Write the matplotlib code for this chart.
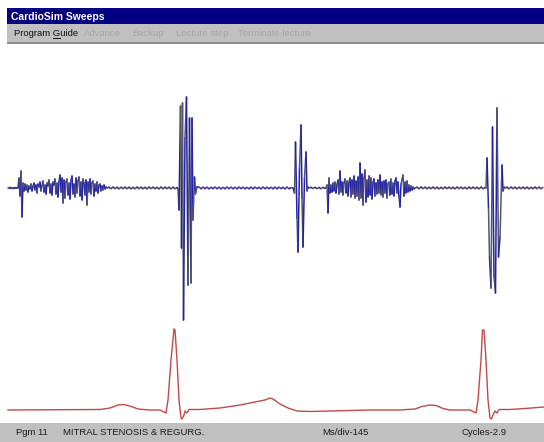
import numpy as np
import matplotlib
matplotlib.use('Agg')
import matplotlib.pyplot as plt
from matplotlib.collections import LineCollection
from matplotlib.patches import Rectangle

# ---------------- data ----------------
title = 'CardioSim Sweeps'
menu_items = ['Program Guide', 'Advance', 'Backup', 'Lecture step', 'Terminate lecture']
menu_enabled = [True, False, False, False, False]
status_items = ['Pgm 11', 'MITRAL STENOSIS & REGURG.', 'Ms/div-145', 'Cycles-2.9']

# Phonocardiogram: uniform-step pieces (start, step, values) and explicit bursts (t, a)
pcg_murmur1_start, pcg_murmur1_step = 8, 1
pcg_murmur1 = [0, 0.5, -0.5, 0.6, -0.4, 0.3, -0.5, 0.5, -0.3, 0.4, 0,
               10, -8, 17, -29, 5, -3,
               4, -2, 3, -4, 2, -1, 4, -3, 2, 5, -2, 3, -5, 4, 1, 6, -3, 2, 7, -4, 3, -6, 5, 2, 8,
               -5, 4, -7, 6, 3, 9, -6, 5, -9, 7, 13, -4, 10, -15, 8, -10, 6, 9, -7, 5, -11, 8, 12,
               -6, 4, -9, 10, -5, 7, 11, -8, 6, -12, 9, 5, -7, 8, -17, 6, -4, 9, -6, 5, 7, -8, 4,
               -3, 6, -5, 3, 4, -3, 2, -2, 3, -1, 1, 0]
pcg_ripple1_start, pcg_ripple1_step = 109, 2
pcg_ripple1 = [0.8, -0.7, 0.9, -0.6, 0.8, -0.8, 0.7, -0.6, 0.9, -0.7, 0.8, -0.8, 0.6, -0.7,
               0.9, -0.6, 0.8, -0.7, 0.7, -0.8, 0.9, -0.6, 0.8, -0.7, 0.6, -0.8, 0.9, -0.7,
               0.8, -0.6, 0.7, -0.8, 0.9, -0.7, 0.5]
pcg_s1a_t = [178, 179, 180.5, 181.5, 182.5, 183.5, 185, 186.5, 188, 189.5, 191, 192, 193, 194.5, 195.5, 197]
pcg_s1a_a = [-1, -22, 82, -60, 85, -132, 50, 91, -97, 70, -95, 70, -32, 11, -6, 1]
pcg_ripple2_start, pcg_ripple2_step = 199, 2
pcg_ripple2 = [0.8, -0.7, 0.9, -0.6, 0.8, -0.8, 0.7, -0.6, 0.9, -0.7, 0.8, -0.8, 0.6, -0.7,
               0.9, -0.6, 0.8, -0.7, 0.7, -0.8, 0.9, -0.6, 0.8, -0.7, 0.6, -0.8, 0.9, -0.7,
               0.8, -0.6, 0.7, -0.8, 0.9, -0.7, 0.8, -0.6, 0.7, -0.8, 0.9, -0.7, 0.8, -0.6,
               0.7, -0.8, 0.9, -0.7, 0.3]
pcg_s2_t = [293, 294.5, 295.5, 297, 298, 299.5, 301, 302, 303, 304.5, 306, 307, 308, 309]
pcg_s2_a = [0, -5, 46, -30, -64, 20, 63, -10, -59, 10, 36, -3, 1, 0]
pcg_ripple3_start, pcg_ripple3_step = 311, 2
pcg_ripple3 = [0.6, -0.5, 0.7, -0.6, 0.5, -0.6, 0.6, -0.4]
pcg_murmur2_start, pcg_murmur2_step = 326, 1
pcg_murmur2 = [0, 3, -25, 10, -5, 3, -4, 5, -3, 6, -5, 4, 8, -6, 17, -4, 6, -7, 5, 9, -5, 7, -8, 6,
               10, -9, 8, -6, 12, -10, 7, -8, 11, -12, 25, -10, 14, -17, 9, 18, -14, 8, -9, 12, -7,
               10, -11, 6, 9, -8, 5, -6, 8, -5, 13, -7, 6, -9, 7, -5, 8, -10, 4, 6, -7, 9, -6, 5,
               -8, 7, 10, -5, 6, -9, -19, 4, 8, 13, -8, 6, -5, 7, -4, 3, -3, 2, -2, 1, -1, 0]
pcg_ripple4_start, pcg_ripple4_step = 417, 2
pcg_ripple4 = [0.8, -0.7, 0.9, -0.6, 0.8, -0.8, 0.7, -0.6, 0.9, -0.7, 0.8, -0.8, 0.6, -0.7,
               0.9, -0.6, 0.8, -0.7, 0.7, -0.8, 0.9, -0.6, 0.8, -0.7, 0.6, -0.8, 0.9, -0.7,
               0.8, -0.6, 0.7, -0.8, 0.9, -0.7, 0.4]
pcg_s1b_t = [486, 487, 488.5, 489.5, 491, 492.5, 494, 495.5, 497, 498.5, 500, 502, 503, 504, 505]
pcg_s1b_a = [0, 30, -20, -69, -100, 61, -89, -105, 80, -69, -49, 23, -3, 1, 0]
pcg_ripple5_start, pcg_ripple5_step = 507, 2
pcg_ripple5 = [0.8, -0.7, 0.9, -0.6, 0.8, -0.8, 0.7, -0.6, 0.9, -0.7, 0.8, -0.8, 0.6, -0.7,
               0.9, -0.6, 0.8, -0.7, 0.6]

# ECG (time, amplitude)
ecg_t = [8, 60, 100, 110, 118, 123, 130, 138, 150, 160, 164, 166, 168, 171, 174, 175, 177, 179,
         181, 182, 184, 185, 187, 189, 200, 220, 240, 255, 265, 270, 273, 280, 288, 297, 310,
         330, 350, 370, 400, 415, 422, 430, 436, 443, 450, 470, 474, 476, 478, 481, 482.5, 484,
         486, 488, 490, 491.5, 493, 495, 497, 499, 510, 525, 544]
ecg_a = [0, 0.3, 0.5, 2, 5, 5.5, 4, 1, 0, 0, -2, -3, 10, 50, 81, 80, 50, 10,
         -8, -9, -5, -1, -3, 0.5, 0.5, 2, 5, 8, 10, 12, 11, 6, 2, -1, -1.5,
         -1, -0.5, 0, 0, 1, 3.5, 5, 4.5, 1.5, 0, 0, -2, -3, 10, 50, 80, 80,
         50, 10, -8, -9, -5, -1, -3, 0.5, 0.5, 1.5, 3]

# ---------------- figure ----------------
W, H = 544, 442
fig = plt.figure(figsize=(W / 100, H / 100), dpi=100)
fig.patch.set_facecolor('white')

bg = fig.add_axes([0, 0, 1, 1])
bg.set_xlim(0, W)
bg.set_ylim(H, 0)
bg.axis('off')
bg.add_patch(Rectangle((7, 8), W - 7, 16, color='#000080', lw=0))
bg.add_patch(Rectangle((7, 24), W - 7, 18, color='#c0c0c0', lw=0))
bg.add_patch(Rectangle((7, 42), W - 7, 2, color='#8c8c8c', lw=0))
bg.add_patch(Rectangle((0, 423), W, 19, color='#c0c0c0', lw=0))

FONT = 'Liberation Sans'
bg.text(11, 16.5, title, color='white', fontweight='bold', fontsize=7.5, family=FONT,
        va='center', ha='left')

menu_x = [14, 84, 132, 176, 238]
for lab, x, en in zip(menu_items, menu_x, menu_enabled):
    bg.text(x, 33.5, lab, color='#101010' if en else '#a6a6a6', fontsize=6.8, family=FONT,
            va='center', ha='left')

# underline the G of "Program Guide"
fig.canvas.draw()
r = fig.canvas.get_renderer()
tmp = bg.text(14, 33.5, 'Program ', fontsize=6.8, family=FONT, va='center')
w1 = tmp.get_window_extent(r).width
tmp.set_text('G')
w2 = tmp.get_window_extent(r).width
tmp.remove()
bg.plot([14 + w1, 14 + w1 + w2], [38.3, 38.3], color='#101010', lw=0.7)

status_x = [16, 63, 322, 462]
for lab, x in zip(status_items, status_x):
    bg.text(x, 432.5, lab, color='#1a1a1a', fontsize=6.8, family=FONT, va='center', ha='left')

# ---------------- PCG ----------------
def uni(start, step, vals):
    return list(start + step * np.arange(len(vals))), list(vals)

pieces = [
    uni(pcg_murmur1_start, pcg_murmur1_step, pcg_murmur1),
    uni(pcg_ripple1_start, pcg_ripple1_step, pcg_ripple1),
    (pcg_s1a_t, pcg_s1a_a),
    uni(pcg_ripple2_start, pcg_ripple2_step, pcg_ripple2),
    (pcg_s2_t, pcg_s2_a),
    uni(pcg_ripple3_start, pcg_ripple3_step, pcg_ripple3),
    uni(pcg_murmur2_start, pcg_murmur2_step, pcg_murmur2),
    uni(pcg_ripple4_start, pcg_ripple4_step, pcg_ripple4),
    (pcg_s1b_t, pcg_s1b_a),
    uni(pcg_ripple5_start, pcg_ripple5_step, pcg_ripple5),
]
pt, pa = [], []
for t, a in pieces:
    pt += list(t)
    pa += list(a)
pt = np.array(pt, float)
pa = np.array(pa, float)

ax1 = fig.add_axes([0, 1 - 323 / H, 1, (323 - 44) / H])
ax1.set_xlim(0, W)
ax1.set_ylim(-(323 - 188), 188 - 44)
ax1.axis('off')
pts = np.column_stack([pt, pa])
segs = np.stack([pts[:-1], pts[1:]], axis=1)
cols = ['#2323a6' if i % 2 == 0 else '#55556a' for i in range(len(segs))]
lc = LineCollection(segs, colors=cols, linewidths=1.1, capstyle='round')
ax1.add_collection(lc)

# ---------------- ECG ----------------
ax2 = fig.add_axes([0, 1 - 423 / H, 1, (423 - 323) / H])
ax2.set_xlim(0, W)
ax2.set_ylim(-(423 - 410), 410 - 323)
ax2.axis('off')
ax2.plot(ecg_t, ecg_a, color='#c44848', lw=1.0)

fig.savefig('out.png', dpi=100, facecolor='white')
